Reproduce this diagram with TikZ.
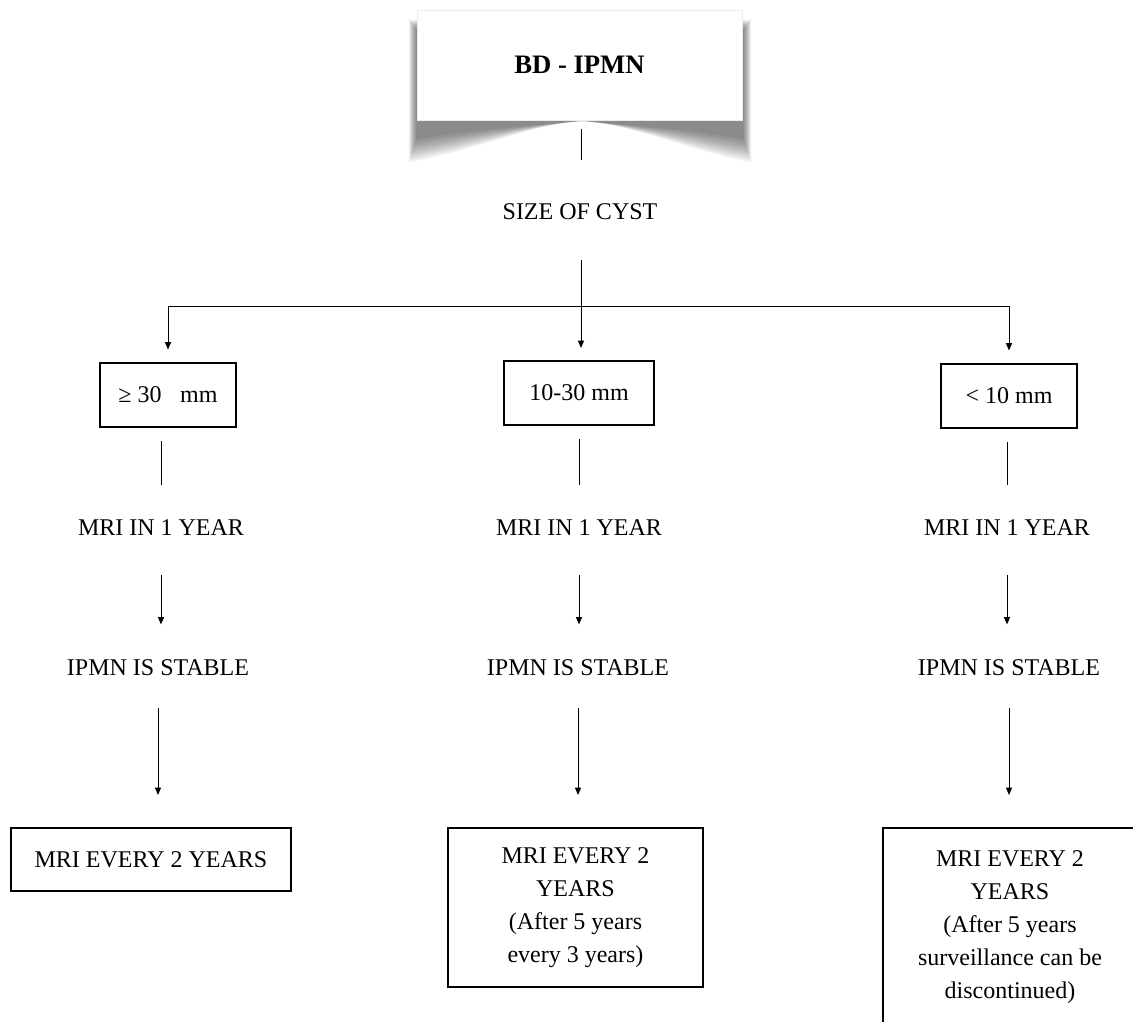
\documentclass[tikz,border=0pt]{standalone}
\usepackage{fontspec}
\setmainfont{Liberation Serif}
\usetikzlibrary{arrows.meta}

\tikzset{every picture/.style={line width=0.75pt}}
\tikzset{
    txt/.style={inner sep=0.75pt, align=center, font=\fontsize{18}{24.75}\selectfont},
    sizebox/.style={txt, draw, line width=1.5pt, minimum height=48pt},
    endbox/.style={txt, draw, line width=1.5pt, anchor=north},
    arr/.style={-{Triangle[length=5.5pt,width=4.5pt]}}
}

\begin{document}
\begin{tikzpicture}[x=0.75pt,y=0.75pt,yscale=-1,xscale=1]
    \useasboundingbox (0,0) rectangle (1133,1022);

    %Shadow under the title box
    \foreach \k in {0,...,9}
        \fill[black, opacity=0.06] (409+\k*0.8,20+\k) -- (409+\k*0.8,162-\k*2.5) .. controls (470,152-\k*2.5) and (535,123+\k*0.3) .. (582,121) .. controls (629,123+\k*0.3) and (694,152-\k*2.5) .. (751-\k*0.8,162-\k*2.5) -- (751-\k*0.8,20+\k) -- cycle;

    % Title Node
    \node [txt, draw=black!8, fill=white, minimum width=243.75pt, minimum height=82.5pt, font=\fontsize{20}{24}\selectfont\bfseries] (bd) at (579.5,65) {BD - IPMN};
    % Text Node
    \node [txt] (size) at (580,212) {SIZE OF CYST};
    \coordinate (split) at (581,306);

    % Size Nodes
    \node [sizebox, minimum width=102pt] (b1) at (168,394.5) {≥ 30\hspace{14pt}mm};
    \node [sizebox, minimum width=112.5pt] (b2) at (579,393) {10-30 mm};
    \node [sizebox, minimum width=102pt] (b3) at (1009,395.5) {< 10 mm};

    % Text Node
    \node [txt] (m1) at (161,528) {MRI IN 1 YEAR};
    \node [txt] (m2) at (579,528) {MRI IN 1 YEAR};
    \node [txt] (m3) at (1007,528) {MRI IN 1 YEAR};
    % Text Node
    \node [txt] (s1) at (158,668) {IPMN IS STABLE};
    \node [txt] (s2) at (578,668) {IPMN IS STABLE};
    \node [txt] (s3) at (1009,668) {IPMN IS STABLE};

    % End Nodes
    \node [endbox, minimum width=210pt, minimum height=47.25pt] (f1) at (151,827) {MRI EVERY 2 YEARS};
    \node [endbox, minimum width=191pt, minimum height=119pt] (f2) at (575.5,827) {MRI EVERY 2\\YEARS\\(After 5 years\\every 3 years)};
    \node [endbox, minimum width=190.5pt, minimum height=148pt] (f3) at (1010,827) {MRI EVERY 2\\YEARS\\(After 5 years\\surveillance can be\\discontinued)};

    %Straight Lines
    \draw [shorten <=6pt, shorten >=32pt] (bd.south -| split) -- (size.north -| split);
    \draw [shorten <=29pt] (size.south -| split) -- (split);
    \draw (b1 |- split) -- (b3 |- split);
    \draw [arr, shorten >=9pt] (b1 |- split) -- (b1.north);
    \draw [arr, shorten >=9pt] (split) -- (b2.north -| split);
    \draw [arr, shorten >=9pt] (b3 |- split) -- (b3.north);

    \foreach \c in {1,2,3} {
        \draw [shorten <=10pt, shorten >=25.5pt] (b\c.south -| m\c) -- (m\c.north);
        \draw [arr, shorten <=28.5pt, shorten >=25.5pt] (m\c.south) -- (m\c.south |- s\c.north);
        \draw [arr, shorten <=22.5pt, shorten >=24pt] (s\c.south) -- (s\c.south |- f\c.north);
    }
\end{tikzpicture}
\end{document}
